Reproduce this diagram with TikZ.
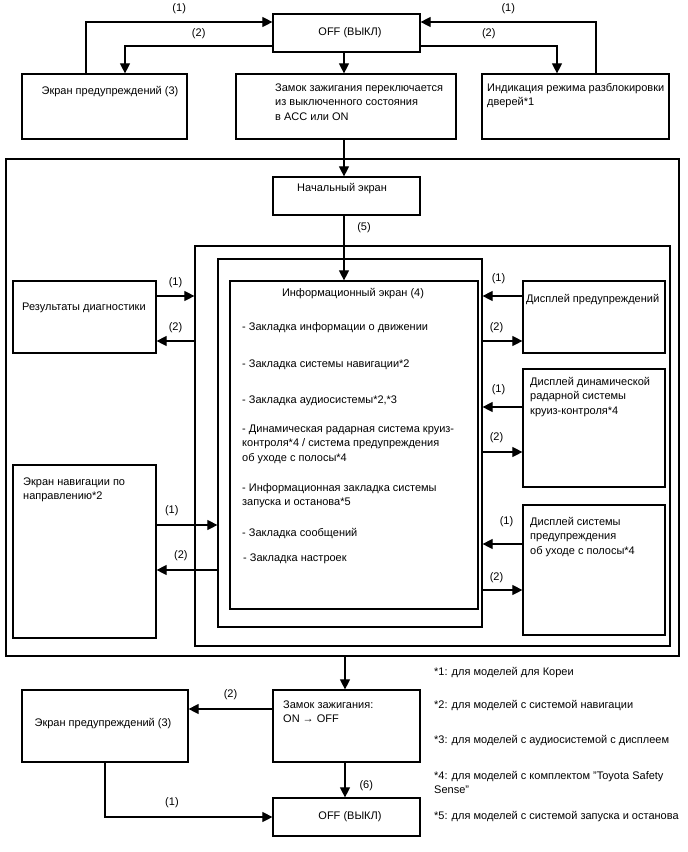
\documentclass[tikz,border=0pt]{standalone}
\usepackage{fontspec}
\setmainfont{Liberation Sans}
\usetikzlibrary{arrows.meta,fit}
\tikzset{
  box/.style={draw, line width=1.2pt, inner sep=0pt},
  arr/.style={line width=1.1pt, -{Triangle[length=10pt,width=10pt]}},
  txt/.style={anchor=base west, inner sep=0pt, align=left, font=\fontsize{11}{14.5}\selectfont},
  ctxt/.style={txt, anchor=base},
  lbl/.style={inner sep=0pt, font=\fontsize{11}{13}\selectfont}
}
\begin{document}
\begin{tikzpicture}[x=1pt,y=-1pt]
\useasboundingbox (0,0) rectangle (688,852);
% boxes
\node[box, fit={(273,14) (420,52)}] (off) {};
\node[box, fit={(22,74) (187,139)}] (warn) {};
\node[box, fit={(236,74) (456,139)}] (ign) {};
\node[box, fit={(482,74) (669,139)}] (door) {};
\node[box, fit={(6,159) (679,656)}] (outer) {};
\node[box, fit={(273,177) (420,215)}] (start) {};
\node[box, fit={(195,246) (670,646)}] (mid) {};
\node[box, fit={(218,259) (482,627)}] (sec) {};
\node[box, fit={(230,281) (478,609)}] (info) {};
\node[box, fit={(13,281) (156,353)}] (diag) {};
\node[box, fit={(13,465) (156,638)}] (nav) {};
\node[box, fit={(523,281) (665,353)}] (wdisp) {};
\node[box, fit={(523,369) (665,487)}] (radar) {};
\node[box, fit={(523,505) (665,635)}] (ldw) {};
\node[box, fit={(273,690) (420,762)}] (ignoff) {};
\node[box, fit={(22,690) (188,762)}] (warnb) {};
\node[box, fit={(273,798) (420,836)}] (offb) {};
% texts (multi-line ones sit on their last baseline)
\node[ctxt] (offT) at (350,35) {OFF (ВЫКЛ)};
\node[ctxt] (warnT) at (110,94) {Экран предупреждений (3)};
\node[txt] (ignT) at (275,120) {Замок зажигания переключается\\из выключенного состояния\\в ACC или ON};
\node[txt] (doorT) at (487,105.5) {Индикация режима разблокировки\\дверей*1};
\node[txt] (startT) at (297,191.5) {Начальный экран};
\node[ctxt] (infoT) at (353,296) {Информационный экран (4)};
\node[txt] (it1) at (242,330.5) {- Закладка информации о движении};
\node[txt] (it2) at (242,367) {- Закладка системы навигации*2};
\node[txt] (it3) at (242,403) {- Закладка аудиосистемы*2,*3};
\node[txt] (it4) at (242,461) {- Динамическая радарная система круиз-\\контроля*4 / система предупреждения\\об уходе с полосы*4};
\node[txt] (it5) at (242,505.5) {- Информационная закладка системы\\запуска и останова*5};
\node[txt] (it6) at (242,536.5) {- Закладка сообщений};
\node[txt] (it7) at (243,561) {- Закладка настроек};
\node[txt] (diagT) at (22,310) {Результаты диагностики};
\node[txt] (navT) at (23,499.5) {Экран навигации по\\направлению*2};
\node[txt] (wdispT) at (526,302) {Дисплей предупреждений};
\node[txt] (radarT) at (530,414) {Дисплей динамической\\радарной системы\\круиз-контроля*4};
\node[txt] (ldwT) at (530,554) {Дисплей системы\\предупреждения\\об уходе с полосы*4};
\node[txt] (ignoffT) at (283,722.5) {Замок зажигания:\\ON → OFF};
\node[ctxt] (warnbT) at (103,726.5) {Экран предупреждений (3)};
\node[ctxt] (offbT) at (350,819) {OFF (ВЫКЛ)};
\node[txt] (n1) at (434,675) {*1: для моделей для Кореи};
\node[txt] (n2) at (434,708) {*2: для моделей с системой навигации};
\node[txt] (n3) at (434,743.5) {*3: для моделей с аудиосистемой с дисплеем};
\node[txt] (n4) at (434,793.5) {*4: для моделей с комплектом "Toyota Safety\\Sense"};
\node[txt] (n5) at (434,819) {*5: для моделей с системой запуска и останова};
% connectors
\draw[arr] (warn.north -| 86,0) |- (off.west |- 0,22) node[lbl, pos=0.75, above=8pt] {(1)};
\draw[arr] (off.west |- 0,46) -| (warn.north -| 125,0) node[lbl, pos=0.25, above=7pt] {(2)};
\draw[arr] (door.north -| 596,0) |- (off.east |- 0,22) node[lbl, pos=0.75, above=8pt] {(1)};
\draw[arr] (off.east |- 0,46) -| (door.north -| 557,0) node[lbl, pos=0.25, above=7pt] {(2)};
\draw[arr] (off.south -| 344,0) -- (ign.north -| 344,0);
\draw[arr] (ign.south -| 344,0) -- (start.north -| 344,0);
\draw[arr] (start.south -| 344,0) -- (info.north -| 344,0);
\node[lbl] (l5) at (364,228) {(5)};
\draw[arr] (diag.east |- 0,296) -- (mid.west |- 0,296) node[lbl, midway, above=8pt] {(1)};
\draw[arr] (mid.west |- 0,341) -- (diag.east |- 0,341) node[lbl, midway, above=8pt] {(2)};
\draw[arr] (nav.east |- 0,525) -- (sec.west |- 0,525) node[lbl, pos=0.25, above=9pt] {(1)};
\draw[arr] (sec.west |- 0,570) -- (nav.east |- 0,570) node[lbl, pos=0.6, above=9pt] {(2)};
\draw[arr] (wdisp.west |- 0,296) -- (sec.east |- 0,296) node[lbl, pos=0.6, above=12pt] {(1)};
\draw[arr] (sec.east |- 0,341) -- (wdisp.west |- 0,341) node[lbl, pos=0.35, above=8pt] {(2)};
\draw[arr] (radar.west |- 0,407) -- (sec.east |- 0,407) node[lbl, pos=0.6, above=12pt] {(1)};
\draw[arr] (sec.east |- 0,452) -- (radar.west |- 0,452) node[lbl, pos=0.35, above=9pt] {(2)};
\draw[arr] (ldw.west |- 0,544) -- (sec.east |- 0,544) node[lbl, pos=0.4, above=17pt] {(1)};
\draw[arr] (sec.east |- 0,590) -- (ldw.west |- 0,590) node[lbl, pos=0.35, above=7pt] {(2)};
\draw[arr] (outer.south -| 345,0) -- (ignoff.north -| 345,0);
\draw[arr] (ignoff.west |- 0,709) -- (warnb.east |- 0,709) node[lbl, midway, above=9pt] {(2)};
\draw[arr] (ignoff.south -| 345,0) -- (offb.north -| 345,0) node[lbl, pos=0.65, right=14pt] {(6)};
\draw[arr] (warnb.south -| 105,0) |- (offb.west |- 0,817) node[lbl, pos=0.7, above=9pt] {(1)};
\end{tikzpicture}
\end{document}
